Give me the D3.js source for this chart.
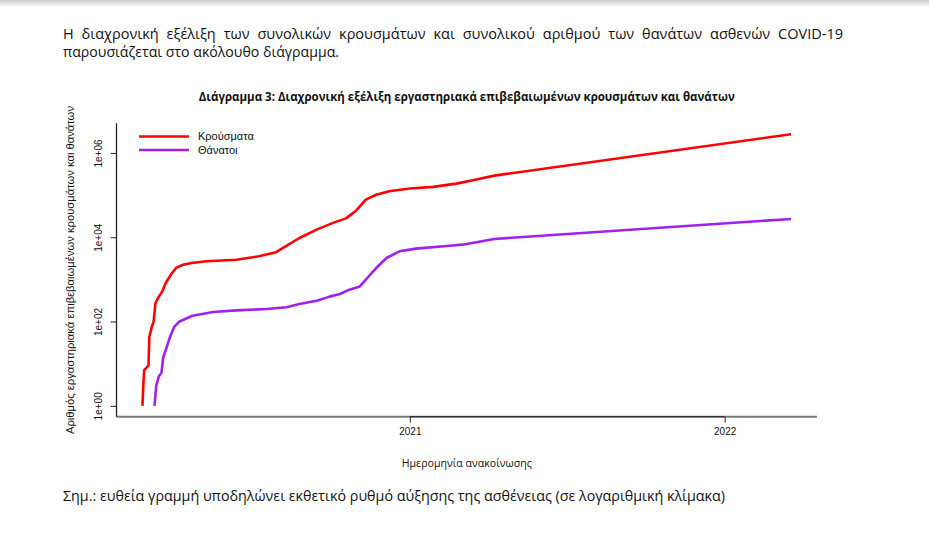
<!DOCTYPE html>
<html>
<head>
<meta charset="utf-8">
<title>Διάγραμμα 3</title>
<style>
  body { margin: 0; background: #fff; }
</style>
</head>
<body>
<script src="https://cdn.jsdelivr.net/npm/d3@7"></script>
<script>

// κρούσματα (αθροιστικά)
var casesDates = ["2020-02-26","2020-02-27","2020-02-28","2020-03-04","2020-03-05","2020-03-08",
	"2020-03-10","2020-03-12","2020-03-15","2020-03-20","2020-03-24","2020-03-30","2020-04-05",
	"2020-04-13","2020-04-23","2020-05-10","2020-06-14","2020-07-10","2020-07-30","2020-08-07",
	"2020-08-26","2020-09-15","2020-10-04","2020-10-19","2020-10-31","2020-11-11","2020-11-23",
	"2020-12-08","2021-01-01","2021-01-28","2021-02-24","2021-03-15","2021-04-09","2022-03-19"];
var casesValues = [1, 3, 7, 9, 43, 77,
	100, 270, 360, 520, 820, 1300, 1870,
	2230, 2450, 2690, 2930, 3530, 4430, 5570,
	9600, 15200, 21900, 28000, 43300, 78000, 102000,
	123000, 143000, 157000, 187000, 225000, 290000, 2790000];

// θάνατοι (αθροιστικά)
var deathsDates = ["2020-03-11","2020-03-13","2020-03-16","2020-03-19","2020-03-21","2020-03-24",
	"2020-03-29","2020-04-03","2020-04-09","2020-04-24","2020-05-18","2020-06-14","2020-07-19",
	"2020-08-11","2020-08-26","2020-09-15","2020-09-30","2020-10-12","2020-10-23","2020-11-04",
	"2020-11-11","2020-11-23","2020-12-05","2020-12-20","2021-01-01","2021-01-08","2021-02-16",
	"2021-03-03","2021-04-09","2022-03-19"];
var deathsValues = [1, 3, 5, 6, 14, 21,
	43, 76, 100, 137, 168, 184, 198,
	219, 260, 312, 390, 450, 570, 680,
	985, 1860, 3220, 4630, 5080, 5360, 6310,
	6670, 9100, 27200];

var seriesNames = ["Κρούσματα", "Θάνατοι"];
var seriesColors = ["#ff0000", "#a020f0"];

var yTicks = [1, 100, 10000, 1000000];
var yTickLabels = ["1e+00", "1e+02", "1e+04", "1e+06"];
var xTicks = ["2021-01-01", "2022-01-01"];
var xTickLabels = ["2021", "2022"];

var width  = 929;
var height = 558;

var svg = d3.select("body")
			.append("svg")
			.attr("width", width)
			.attr("height", height);

// σκιά στο πάνω μέρος
var defs = svg.append("defs");
var grad = defs.append("linearGradient")
			.attr("id", "topshade")
			.attr("x1", 0).attr("y1", 0).attr("x2", 0).attr("y2", 1);
grad.append("stop").attr("offset", "0%").attr("stop-color", "#c8c8c8");
grad.append("stop").attr("offset", "100%").attr("stop-color", "#ffffff");
svg.append("rect")
	.attr("x", 0).attr("y", 0)
	.attr("width", width).attr("height", 7)
	.attr("fill", "url(#topshade)");

// κείμενο εγγράφου
var docFont = "'Liberation Sans Narrow', 'Open Sans', 'Noto Sans', sans-serif";

// πρώτη γραμμή με πλήρη στοίχιση (απόσταση λέξεων)
var line1 = svg.append("text")
	.attr("x", 63).attr("y", 39)
	.attr("font-family", docFont)
	.attr("font-size", "14.5px")
	.attr("fill", "#111")
	.text("Η διαχρονική εξέλιξη των συνολικών κρουσμάτων και συνολικού αριθμού των θανάτων ασθενών COVID-19");
var natural = line1.node().getComputedTextLength();
var nSpaces = line1.text().split(" ").length - 1;
if (natural < 780) {
	line1.attr("word-spacing", ((780 - natural) / nSpaces) + "px");
} else {
	line1.attr("textLength", 780).attr("lengthAdjust", "spacingAndGlyphs");
}

svg.append("text")
	.attr("x", 63).attr("y", 57)
	.attr("font-family", docFont)
	.attr("font-size", "14.5px")
	.attr("fill", "#111")
	.attr("textLength", 276)
	.attr("lengthAdjust", "spacingAndGlyphs")
	.text("παρουσιάζεται στο ακόλουθο διάγραμμα.");
svg.append("text")
	.attr("x", 63).attr("y", 501)
	.attr("font-family", docFont)
	.attr("font-size", "14.5px")
	.attr("fill", "#111")
	.attr("textLength", 662)
	.attr("lengthAdjust", "spacingAndGlyphs")
	.text("Σημ.: ευθεία γραμμή υποδηλώνει εκθετικό ρυθμό αύξησης της ασθένειας (σε λογαριθμική κλίμακα)");

// περιοχή σχεδίασης
var plot = { left: 116.5, right: 817, top: 123.3, bottom: 416.7 };

var parse = d3.timeParse("%Y-%m-%d");
var cases = casesDates.map(function(d, i){ return { date: parse(d), value: casesValues[i] }; });
var deaths = deathsDates.map(function(d, i){ return { date: parse(d), value: deathsValues[i] }; });
var all = cases.concat(deaths);

// όπως στο R: εύρος δεδομένων + 4%
var tExt = d3.extent(all, function(d){ return +d.date; });
var tPad = (tExt[1] - tExt[0]) * 0.04;
var xScale = d3.scaleTime()
			.domain([new Date(tExt[0] - tPad), new Date(tExt[1] + tPad)])
			.range([plot.left, plot.right]);

var lExt = d3.extent(all, function(d){ return Math.log10(d.value); });
var lPad = (lExt[1] - lExt[0]) * 0.04;
var yScale = d3.scaleLog()
			.domain([Math.pow(10, lExt[0] - lPad), Math.pow(10, lExt[1] + lPad)])
			.range([plot.bottom, plot.top]);

// πλαίσιο τύπου "L"
svg.append("line")
	.attr("x1", plot.left).attr("x2", plot.right)
	.attr("y1", plot.bottom).attr("y2", plot.bottom)
	.attr("stroke", "#7a7a7a").attr("stroke-width", 2);
svg.append("line")
	.attr("x1", plot.left).attr("x2", plot.left)
	.attr("y1", plot.top).attr("y2", plot.bottom)
	.attr("stroke", "#222").attr("stroke-width", 1.3);

// άξονας y
var yAxis = d3.axisLeft(yScale)
			.tickValues(yTicks)
			.tickSize(6)
			.tickFormat(function(d, i){ return yTickLabels[i]; });
var gy = svg.append("g")
			.attr("transform", "translate(" + plot.left + ",0)")
			.call(yAxis);
gy.select(".domain").remove();
gy.selectAll(".tick line").attr("stroke", "#222");
gy.selectAll(".tick text")
	.attr("x", 0).attr("y", 0).attr("dy", null)
	.attr("text-anchor", "middle")
	.attr("transform", "translate(-15,0) rotate(-90)")
	.attr("font-family", "'Liberation Sans', Arial, sans-serif")
	.attr("font-size", "10px")
	.attr("fill", "#111");

// άξονας x
var xAxis = d3.axisBottom(xScale)
			.tickValues(xTicks.map(parse))
			.tickSize(6)
			.tickSizeOuter(0)
			.tickFormat(function(d, i){ return xTickLabels[i]; });
var gx = svg.append("g")
			.attr("transform", "translate(0," + plot.bottom + ")")
			.call(xAxis);
gx.select(".domain")
	.attr("d", "M" + xScale(parse(xTicks[0])) + ",0H" + xScale(parse(xTicks[xTicks.length - 1])))
	.attr("stroke", "#222");
gx.selectAll(".tick line").attr("stroke", "#222");
gx.selectAll(".tick text")
	.attr("y", 15).attr("dy", "0.32em")
	.attr("font-family", "'Liberation Sans', Arial, sans-serif")
	.attr("font-size", "10px")
	.attr("fill", "#111");

// γραμμές δεδομένων
var line = d3.line()
			.x(function(d){ return xScale(d.date); })
			.y(function(d){ return yScale(d.value); });

svg.selectAll("path.series")
	.data([cases, deaths])
	.enter()
	.append("path")
	.attr("class", "series")
	.attr("d", line)
	.attr("fill", "none")
	.attr("stroke", function(d, i){ return seriesColors[i]; })
	.attr("stroke-width", 2.6)
	.attr("stroke-linejoin", "round");

// υπόμνημα
var legend = svg.selectAll("g.legend")
			.data(seriesNames)
			.enter()
			.append("g")
			.attr("class", "legend")
			.attr("transform", function(d, i){ return "translate(139," + (136.5 + i * 13.5) + ")"; });
legend.append("line")
	.attr("x1", 0).attr("x2", 50)
	.attr("stroke", function(d, i){ return seriesColors[i]; })
	.attr("stroke-width", 2.6);
legend.append("text")
	.attr("x", 59).attr("dy", "0.35em")
	.attr("font-family", "'Liberation Sans', Arial, sans-serif")
	.attr("font-size", "11px")
	.attr("fill", "#111")
	.text(function(d){ return d; });

// τίτλοι
var midX = (plot.left + plot.right) / 2;
svg.append("text")
	.attr("x", midX).attr("y", 101)
	.attr("text-anchor", "middle")
	.attr("font-family", docFont)
	.attr("font-weight", "bold")
	.attr("font-size", "12px")
	.attr("fill", "#111")
	.attr("textLength", 536)
	.attr("lengthAdjust", "spacingAndGlyphs")
	.text("Διάγραμμα 3: Διαχρονική εξέλιξη εργαστηριακά επιβεβαιωμένων κρουσμάτων και θανάτων");

svg.append("text")
	.attr("x", midX).attr("y", 467)
	.attr("text-anchor", "middle")
	.attr("font-family", docFont)
	.attr("font-size", "11px")
	.attr("fill", "#111")
	.attr("textLength", 130)
	.attr("lengthAdjust", "spacingAndGlyphs")
	.text("Ημερομηνία ανακοίνωσης");

svg.append("text")
	.attr("transform", "translate(74," + ((plot.top + plot.bottom) / 2) + ") rotate(-90)")
	.attr("text-anchor", "middle")
	.attr("font-family", "'Liberation Sans', Arial, sans-serif")
	.attr("font-size", "11px")
	.attr("fill", "#111")
	.attr("textLength", 328)
	.attr("lengthAdjust", "spacingAndGlyphs")
	.text("Αριθμός εργαστηριακά επιβεβαιωμένων κρουσμάτων και θανάτων");

</script>
</body>
</html>
